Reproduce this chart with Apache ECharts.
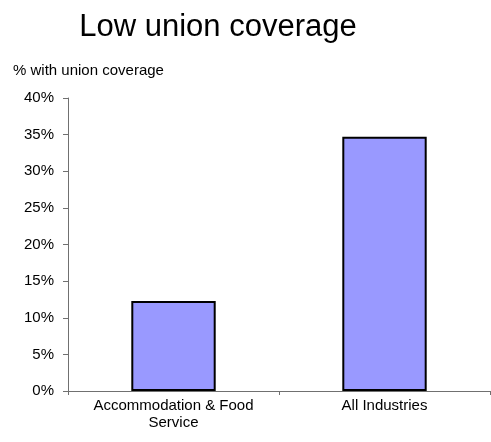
<!DOCTYPE html>
<html>
<head>
    <meta charset="utf-8">
    <title>Low union coverage</title>
    <script src="https://cdn.jsdelivr.net/npm/echarts@6/dist/echarts.min.js"></script>
</head>
<body style="margin:0">
<div id="chart" style="width: 491px;height:442px;"></div>
<script type="text/javascript">
    // data
    var categories = ['Accommodation & Food\nService', 'All Industries'];
    var coverage = [12.3, 34.7];
    var yTicks = [0, 5, 10, 15, 20, 25, 30, 35, 40];

    var chart = echarts.init(document.getElementById('chart'));
    var font = 'Liberation Sans, Arial, sans-serif';

    var option = {
        animation: false,
        title: [{
            text: 'Low union coverage',
            left: 213,
            textAlign: 'center',
            top: 7,
            textStyle: { fontFamily: font, fontSize: 31, fontWeight: 'normal', color: '#000' }
        }, {
            text: '% with union coverage',
            left: 8,
            top: 58,
            textStyle: { fontFamily: font, fontSize: 15, fontWeight: 'normal', color: '#000' }
        }],
        grid: { left: 68, right: 1, top: 98, bottom: 51 },
        xAxis: {
            type: 'category',
            data: categories,
            axisLine: { lineStyle: { color: '#707070', width: 1 } },
            axisTick: { show: true, interval: 0, length: 4, lineStyle: { color: '#707070' } },
            axisLabel: { interval: 0, margin: 6, color: '#000', fontFamily: font, fontSize: 15, lineHeight: 17 }
        },
        yAxis: {
            type: 'value',
            min: yTicks[0],
            max: yTicks[yTicks.length - 1],
            interval: 5,
            splitLine: { show: false },
            axisLine: { show: true, lineStyle: { color: '#707070', width: 1 } },
            axisTick: { show: true, length: 5, lineStyle: { color: '#707070' } },
            axisLabel: { formatter: '{value}%', margin: 14, color: '#000', fontFamily: font, fontSize: 15 }
        },
        series: [{
            type: 'bar',
            data: coverage,
            barWidth: '40%',
            itemStyle: { color: '#9999ff', borderColor: '#000', borderWidth: 2 }
        }]
    };

    chart.setOption(option);
</script>
</body>
</html>
